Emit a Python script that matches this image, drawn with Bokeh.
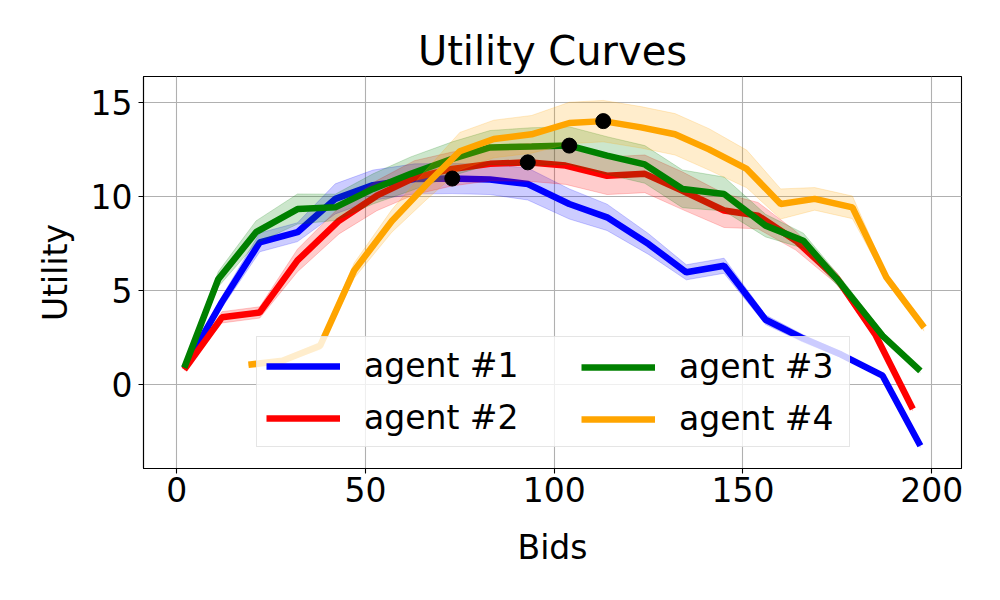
from bokeh.plotting import figure
from bokeh.models import Range1d, FixedTicker, Legend, LegendItem, ColumnDataSource
from bokeh.embed import file_html
from bokeh.resources import INLINE
import numpy as np

# ---- data ----
agents = ["agent #1", "agent #2", "agent #3", "agent #4"]
colors = ["#0000ff", "#ff0000", "#008000", "#ffa500"]

x1 = [2, 12, 22, 32, 42, 52, 63, 73, 83, 93, 104, 114, 125, 135, 145, 156, 166, 176, 187, 197]
y1 = [0.9, 4.4, 7.56, 8.1, 9.87, 10.6, 10.93, 10.95, 10.9, 10.66, 9.6, 8.89, 7.47, 5.97, 6.32, 3.45, 2.45, 1.6, 0.48, -3.24]
s1 = [0.05, 0.3, 0.5, 0.5, 0.8, 0.8, 0.8, 0.8, 0.8, 0.85, 0.8, 0.7, 0.55, 0.4, 0.4, 0.25, 0.2, 0.15, 0.1, 0.1]

x2 = [2, 12, 22, 32, 43, 53, 63, 73, 83, 93, 103, 114, 124, 134, 145, 154, 164, 175, 185, 195]
y2 = [0.8, 3.58, 3.84, 6.6, 8.71, 10.04, 11.0, 11.46, 11.73, 11.81, 11.64, 11.1, 11.2, 10.3, 9.25, 8.98, 7.65, 5.62, 2.69, -1.29]
s2 = [0.05, 0.3, 0.3, 0.6, 0.7, 0.8, 0.9, 0.9, 0.9, 1.0, 1.0, 1.0, 1.0, 1.0, 0.9, 0.7, 0.5, 0.3, 0.2, 0.1]

x3 = [2, 11, 21, 32, 42, 52, 62, 73, 83, 94, 104, 114, 124, 134, 145, 156, 166, 176, 187, 197]
y3 = [0.9, 5.6, 8.1, 9.33, 9.42, 10.4, 11.2, 12.0, 12.6, 12.65, 12.7, 12.17, 11.7, 10.4, 10.13, 8.45, 7.65, 5.35, 2.6, 0.74]
s3 = [0.05, 0.4, 0.6, 0.8, 0.7, 0.8, 0.9, 0.9, 0.9, 1.0, 1.0, 1.0, 1.0, 1.0, 0.9, 0.6, 0.4, 0.3, 0.2, 0.1]

x4 = [19, 28, 38, 47, 57, 66, 75, 84, 94, 104, 113, 123, 132, 141, 151, 160, 169, 179, 188, 198]
y4 = [1.06, 1.27, 2.07, 6.06, 8.7, 10.6, 12.4, 13.05, 13.3, 13.9, 14.0, 13.67, 13.3, 12.5, 11.46, 9.6, 9.87, 9.42, 5.7, 3.04]
s4 = [0.05, 0.1, 0.2, 0.4, 0.6, 0.8, 1.0, 1.0, 1.0, 1.1, 1.1, 1.1, 1.1, 1.1, 1.0, 0.8, 0.6, 0.6, 0.2, 0.2]

x_ticks = [0, 50, 100, 150, 200]
y_ticks = [0, 5, 10, 15]

FONT = "DejaVu Sans"
TXT = "#000000"

p = figure(width=984, height=584, output_backend="svg", toolbar_location=None,
           x_range=Range1d(-8.8, 207.9), y_range=Range1d(-4.45, 16.37),
           min_border_left=143, min_border_right=23, min_border_top=76,
           min_border_bottom=116)

p.title.text = "Utility Curves"
p.title.text_font = FONT
p.title.text_font_size = "40px"
p.title.text_font_style = "normal"
p.title.text_color = TXT
p.title.align = "center"
p.title.standoff = 5

p.outline_line_color = "black"
p.outline_line_width = 1.1
p.background_fill_color = "white"
p.border_fill_color = "white"

p.xgrid.grid_line_color = "#b0b0b0"
p.ygrid.grid_line_color = "#b0b0b0"
p.xgrid.grid_line_width = 1.1
p.ygrid.grid_line_width = 1.1

for ax in (p.xaxis[0], p.yaxis[0]):
    ax.axis_line_color = "black"
    ax.axis_line_width = 1.1
    ax.major_tick_line_color = "black"
    ax.major_tick_line_width = 1.1
    ax.major_tick_in = 0
    ax.major_tick_out = 5
    ax.minor_tick_line_color = None
    ax.major_label_text_font = FONT
    ax.major_label_text_font_size = "33px"
    ax.major_label_text_color = TXT
    ax.axis_label_text_font = FONT
    ax.axis_label_text_font_size = "33px"
    ax.axis_label_text_font_style = "normal"
    ax.axis_label_text_color = TXT

p.xaxis.ticker = FixedTicker(ticks=x_ticks)
p.yaxis.ticker = FixedTicker(ticks=y_ticks)
p.xaxis.axis_label = "Bids"
p.yaxis.axis_label = "Utility"
p.xaxis.major_label_standoff = 3
p.yaxis.major_label_standoff = 6
p.xaxis.axis_label_standoff = 23
p.yaxis.axis_label_standoff = 13

series = [(x1, y1, s1), (x2, y2, s2), (x3, y3, s3), (x4, y4, s4)]
line_renderers = []
peaks_x, peaks_y = [], []
for (xs, ys, ss), c in zip(series, colors):
    xs_a = np.array(xs, dtype=float)
    ys_a = np.array(ys, dtype=float)
    ss_a = np.array(ss, dtype=float)
    src = ColumnDataSource(dict(x=xs_a, y=ys_a, lo=ys_a - ss_a, hi=ys_a + ss_a))
    r = p.line("x", "y", source=src, color=c, line_width=6.5)
    line_renderers.append(r)
    p.varea(x="x", y1="lo", y2="hi", source=src, fill_color=c, fill_alpha=0.2)
    p.line("x", "lo", source=src, color=c, line_alpha=0.2, line_width=1)
    p.line("x", "hi", source=src, color=c, line_alpha=0.2, line_width=1)
    k = int(np.argmax(ys_a))
    peaks_x.append(xs_a[k])
    peaks_y.append(ys_a[k])

p.scatter(peaks_x, peaks_y, size=15, color="black")

common = dict(glyph_width=74, glyph_height=20, label_standoff=24, label_height=37,
              spacing=13, padding=9, margin=0, label_text_font=FONT,
              label_text_font_size="33px", label_text_color=TXT)

leg_a = Legend(items=[LegendItem(label=agents[0], renderers=[line_renderers[0]]),
                      LegendItem(label=agents[1], renderers=[line_renderers[1]])],
               location=(113, 21), label_width=476,
               background_fill_color="white", background_fill_alpha=0.8,
               border_line_color="#cccccc", border_line_width=1.1, **common)
leg_b = Legend(items=[LegendItem(label=agents[2], renderers=[line_renderers[2]]),
                      LegendItem(label=agents[3], renderers=[line_renderers[3]])],
               location=(429, 21),
               background_fill_alpha=0, border_line_alpha=0, **common)
p.add_layout(leg_a, "center")
p.add_layout(leg_b, "center")

open("out.html", "w").write(file_html(p, INLINE))
